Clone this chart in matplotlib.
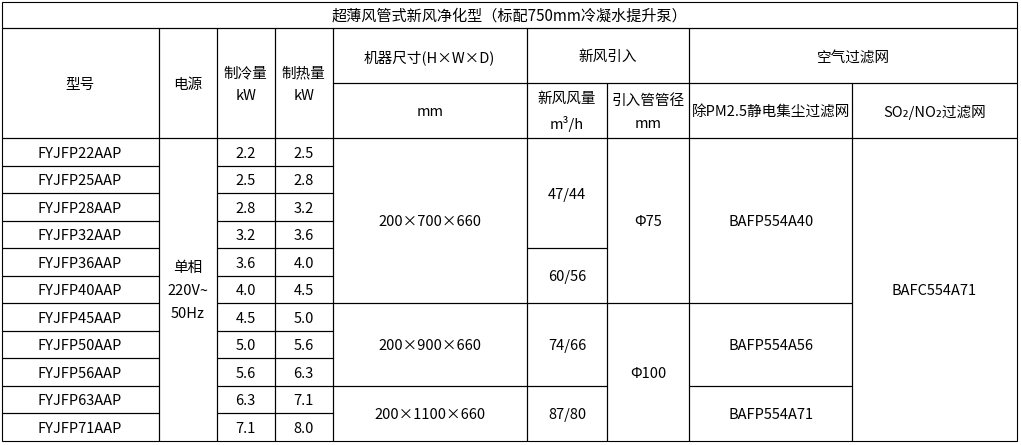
import matplotlib.pyplot as plt
from matplotlib.patches import Rectangle

plt.rcParams['font.family'] = ['Noto Sans CJK SC', 'DejaVu Sans']

title = "超薄风管式新风净化型（标配750mm冷凝水提升泵）"

models = ["FYJFP22AAP", "FYJFP25AAP", "FYJFP28AAP", "FYJFP32AAP", "FYJFP36AAP",
          "FYJFP40AAP", "FYJFP45AAP", "FYJFP50AAP", "FYJFP56AAP", "FYJFP63AAP",
          "FYJFP71AAP"]
cooling_kw = ["2.2", "2.5", "2.8", "3.2", "3.6", "4.0", "4.5", "5.0", "5.6", "6.3", "7.1"]
heating_kw = ["2.5", "2.8", "3.2", "3.6", "4.0", "4.5", "5.0", "5.6", "6.3", "7.1", "8.0"]
power = "单相\n220V~\n50Hz"

# (text, number of rows spanned)
sizes = [("200×700×660", 6), ("200×900×660", 3), ("200×1100×660", 2)]
airflow = [("47/44", 4), ("60/56", 2), ("74/66", 3), ("87/80", 2)]
pipe = [("Φ75", 6), ("Φ100", 5)]
pm_filter = [("BAFP554A40", 6), ("BAFP554A56", 3), ("BAFP554A71", 2)]
so2_filter = [("BAFC554A71", 11)]

# layout in pixels
xs = [1.5, 158.7, 216.7, 274.7, 332.7, 526.7, 607.3, 689.3, 852.3, 1016.7]
y_top, y_title, y_h1, y_h2 = 1.5, 28.3, 83.3, 138.3
row_h = 27.5

fig = plt.figure(figsize=(10.21, 4.45), dpi=100)
ax = fig.add_axes([0, 0, 1, 1])
ax.set_xlim(0, 1021)
ax.set_ylim(445, 0)
ax.axis('off')

FS = 10.5
LW = 0.8
DY = 1.5  # small downward nudge so glyphs sit like the reference


def cell(x0, x1, y0, y1, text="", fs=FS):
    ax.add_patch(Rectangle((x0, y0), x1 - x0, y1 - y0, fill=False,
                           edgecolor='black', linewidth=LW))
    if text:
        ax.text((x0 + x1) / 2, (y0 + y1) / 2 + DY, text, ha='center', va='center',
                fontsize=fs, color='black', linespacing=1.8)


# title row
cell(xs[0], xs[-1], y_top, y_title, title, fs=10.9)

# header
cell(xs[0], xs[1], y_title, y_h2, "型号")
cell(xs[1], xs[2], y_title, y_h2, "电源")
cell(xs[2], xs[3], y_title, y_h2, "制冷量\nkW")
cell(xs[3], xs[4], y_title, y_h2, "制热量\nkW")
cell(xs[4], xs[5], y_title, y_h1, "机器尺寸(H×W×D)")
cell(xs[4], xs[5], y_h1, y_h2, "mm")
cell(xs[5], xs[7], y_title, y_h1, "新风引入")
cell(xs[5], xs[6], y_h1, y_h2, "新风风量\nm³/h")
cell(xs[6], xs[7], y_h1, y_h2, "引入管管径\nmm")
cell(xs[7], xs[9], y_title, y_h1, "空气过滤网")
cell(xs[7], xs[8], y_h1, y_h2, "除PM2.5静电集尘过滤网")
cell(xs[8], xs[9], y_h1, y_h2, "SO₂/NO₂过滤网")

n = len(models)
y_bot = y_h2 + n * row_h

for i in range(n):
    y0 = y_h2 + i * row_h
    cell(xs[0], xs[1], y0, y0 + row_h, models[i])
    cell(xs[2], xs[3], y0, y0 + row_h, cooling_kw[i])
    cell(xs[3], xs[4], y0, y0 + row_h, heating_kw[i])

cell(xs[1], xs[2], y_h2, y_bot, power)


def merged_column(col, items):
    r = 0
    for text, span in items:
        y0 = y_h2 + r * row_h
        cell(xs[col], xs[col + 1], y0, y0 + span * row_h, text)
        r += span


merged_column(4, sizes)
merged_column(5, airflow)
merged_column(6, pipe)
merged_column(7, pm_filter)
merged_column(8, so2_filter)

fig.savefig("out.png", dpi=100, facecolor='white')
